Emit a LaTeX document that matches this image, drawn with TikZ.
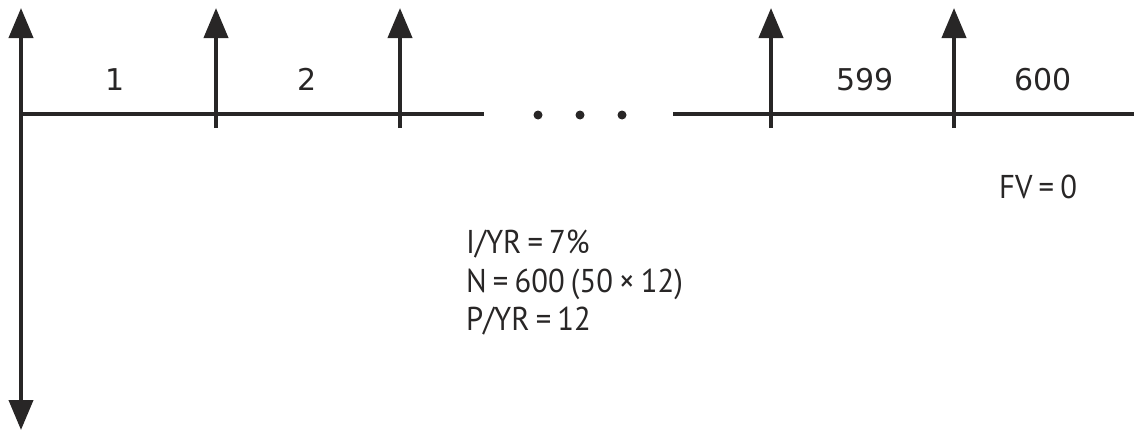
\documentclass[tikz,border=0pt]{standalone}
\usepackage{fontspec}
\usetikzlibrary{arrows.meta}
\newfontfamily\numfont{DejaVu Sans}
\newfontfamily\lblfont[FakeStretch=0.93,WordSpace=0.75]{PT Sans}
\definecolor{ink}{RGB}{40,38,38}
\begin{document}
\begin{tikzpicture}[x=1pt,y=-1pt,
  line/.style={draw=ink,line width=4pt},
  flow/.style={line,-{Triangle[length=30pt,width=24pt]}},
  num/.style={font=\numfont\fontsize{30}{36}\selectfont,text=ink,inner sep=0pt,anchor=base},
  lbl/.style={font=\lblfont\fontsize{33}{38}\selectfont,text=ink,inner sep=0pt,anchor=base west},
  dot/.style={circle,fill=ink,inner sep=0pt,minimum size=9pt}]
\useasboundingbox (0,0) rectangle (1134,431);
% base points
\coordinate (o) at (21,114);
\coordinate (otop) at (21,8);
\coordinate (obot) at (21,430);
\coordinate (e1) at (484,114);
\coordinate (s2) at (673,114);
\coordinate (e2) at (1134,114);
\foreach \n/\x in {a/216,b/400,c/771,d/954}{
  \coordinate (\n b) at (\x,128);
  \coordinate (\n t) at (\x,8);
}
% timeline
\draw[line] (o) -- (e1);
\draw[line] (s2) -- (e2);
\draw[flow] (o) -- (otop);
\draw[flow] (o) -- (obot);
\foreach \n in {a,b,c,d}{ \draw[flow] (\n b) -- (\n t); }
% dots
\node[dot] (d1) at (538,115) {};
\node[dot] (d2) at (580,115) {};
\node[dot] (d3) at (622,115) {};
% period labels
\node[num] (p1) at (115,90) {1};
\node[num] (p2) at (307,90) {2};
\node[num] (p599) at (865,90) {599};
\node[num] (p600) at (1043,90) {600};
% values
\node[lbl] (fv) at (999,198) {FV = 0};
\node[lbl] (l1) at (466,253) {I/YR = 7\%};
\node[lbl] (l2) at (466,292) {N = 600 (50 × 12)};
\node[lbl] (l3) at (466,330) {P/YR = 12};
\end{tikzpicture}
\end{document}
